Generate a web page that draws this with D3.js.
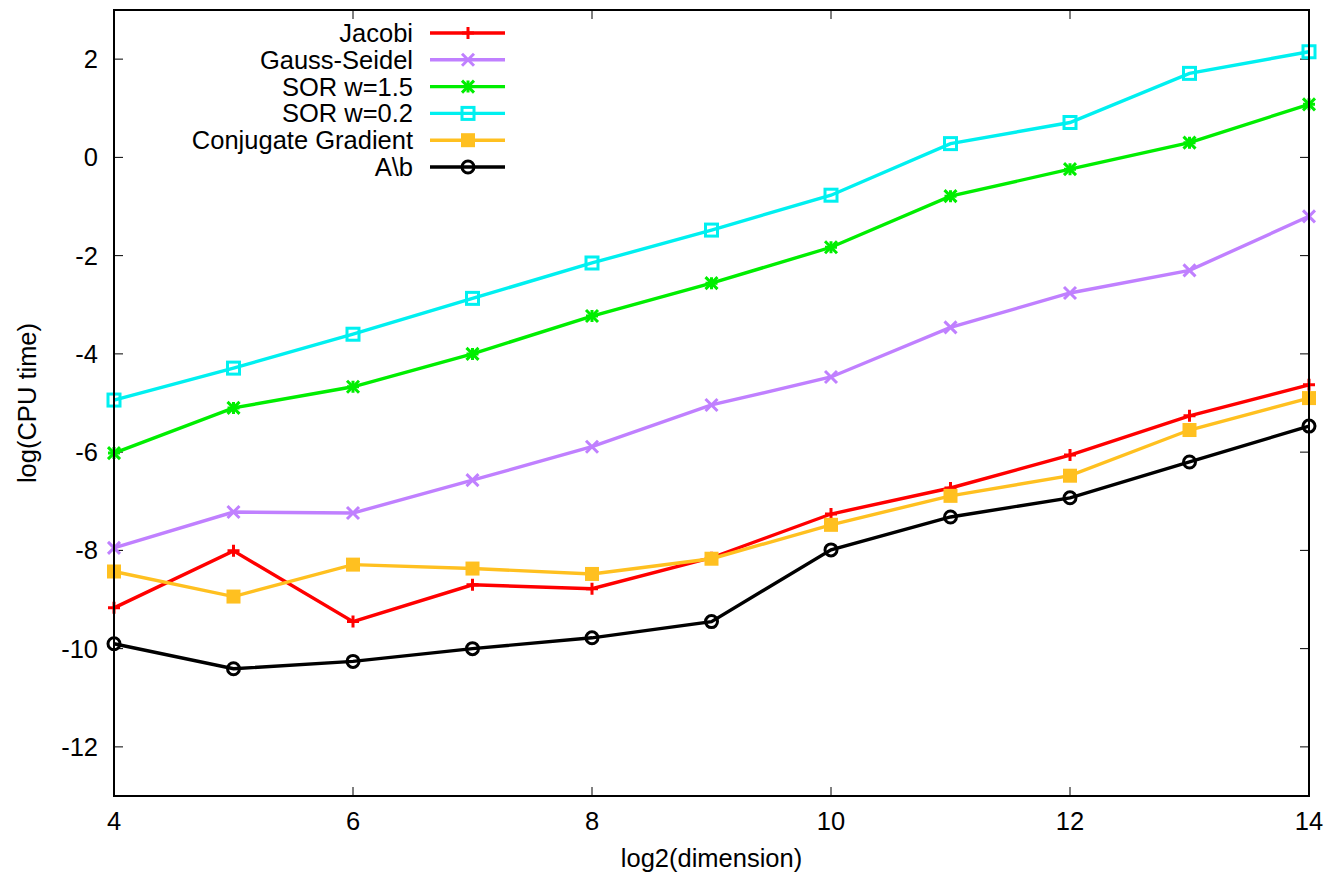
<!DOCTYPE html>
<html>
<head>
<meta charset="utf-8">
<script src="https://cdn.jsdelivr.net/npm/d3@7"></script>
<style>
  body { margin: 0; background: #fff; }
  text { font-family: "Liberation Sans", Arial, sans-serif; fill: #000; }
</style>
</head>
<body>
<svg id="chart" width="1332" height="883"></svg>
<script>
// log2(dimension)
const dims = [4, 5, 6, 7, 8, 9, 10, 11, 12, 13, 14]

const jacobi = [-9.17, -8.01, -9.45, -8.70, -8.78, -8.15, -7.26, -6.73, -6.06, -5.26, -4.63]
const gaussSeidel = [-7.95, -7.22, -7.24, -6.57, -5.89, -5.04, -4.47, -3.46, -2.76, -2.30, -1.20]
const sor15 = [-6.02, -5.10, -4.67, -4.00, -3.23, -2.56, -1.83, -0.79, -0.24, 0.30, 1.08]
const sor02 = [-4.94, -4.29, -3.60, -2.87, -2.15, -1.48, -0.77, 0.28, 0.71, 1.71, 2.15]
const conjGrad = [-8.43, -8.94, -8.29, -8.37, -8.48, -8.17, -7.48, -6.89, -6.48, -5.55, -4.90]
const backslash = [-9.90, -10.41, -10.26, -10.00, -9.78, -9.45, -7.99, -7.32, -6.93, -6.20, -5.47]

const seriesNames = ['Jacobi', 'Gauss-Seidel', 'SOR w=1.5', 'SOR w=0.2', 'Conjugate Gradient', 'A\\b']
const seriesValues = [jacobi, gaussSeidel, sor15, sor02, conjGrad, backslash]

const xTicks = [4, 6, 8, 10, 12, 14]
const yTicks = [2, 0, -2, -4, -6, -8, -10, -12]

const colors = ['#ff0000', '#c080ff', '#00ee00', '#00f0f0', '#ffc020', '#000000']
const markers = ['plus', 'cross', 'star', 'openSquare', 'square', 'circle']

const svg = d3.select('#chart')
const plotLeft = 114, plotRight = 1309, plotTop = 10, plotBottom = 796
const fontSize = '25.5px'

const x = d3.scaleLinear().domain([4, 14]).range([plotLeft, plotRight])
const y = d3.scaleLinear().domain([-13, 3]).range([plotBottom, plotTop])

// ticks, mirrored on both sides like gnuplot
const tickLen = 9
const g = svg.append('g')
for (let t of xTicks) {
    g.append('line')
        .attr('x1', x(t)).attr('x2', x(t))
        .attr('y1', plotBottom).attr('y2', plotBottom - tickLen)
        .attr('stroke', '#000').attr('stroke-width', 1)
    g.append('line')
        .attr('x1', x(t)).attr('x2', x(t))
        .attr('y1', plotTop).attr('y2', plotTop + tickLen)
        .attr('stroke', '#000').attr('stroke-width', 1)
    g.append('text')
        .attr('x', x(t)).attr('y', plotBottom + 34)
        .attr('text-anchor', 'middle')
        .style('font-size', fontSize)
        .text(t)
}
for (let t of yTicks) {
    g.append('line')
        .attr('x1', plotLeft).attr('x2', plotLeft + tickLen)
        .attr('y1', y(t)).attr('y2', y(t))
        .attr('stroke', '#000').attr('stroke-width', 1)
    g.append('line')
        .attr('x1', plotRight).attr('x2', plotRight - tickLen)
        .attr('y1', y(t)).attr('y2', y(t))
        .attr('stroke', '#000').attr('stroke-width', 1)
    g.append('text')
        .attr('x', plotLeft - 16).attr('y', y(t) + 9)
        .attr('text-anchor', 'end')
        .style('font-size', fontSize)
        .text(t)
}

// axis titles
svg.append('text')
    .attr('x', (plotLeft + plotRight) / 2).attr('y', 867)
    .attr('text-anchor', 'middle')
    .style('font-size', fontSize)
    .text('log2(dimension)')
svg.append('text')
    .attr('transform', `translate(36, ${(plotTop + plotBottom) / 2}) rotate(-90)`)
    .attr('text-anchor', 'middle')
    .style('font-size', fontSize)
    .text('log(CPU time)')

function drawMarker(sel, type, color) {
    const s = 6
    if (type == 'plus' || type == 'star') {
        sel.append('path').attr('d', `M${-s},0H${s}M0,${-s}V${s}`)
            .attr('stroke', color).attr('stroke-width', 3).attr('fill', 'none')
    }
    if (type == 'cross' || type == 'star') {
        sel.append('path').attr('d', `M${-s},${-s}L${s},${s}M${-s},${s}L${s},${-s}`)
            .attr('stroke', color).attr('stroke-width', 3).attr('fill', 'none')
    }
    if (type == 'openSquare') {
        sel.append('rect').attr('x', -6).attr('y', -6).attr('width', 12).attr('height', 12)
            .attr('stroke', color).attr('stroke-width', 3).attr('fill', 'none')
    }
    if (type == 'square') {
        sel.append('rect').attr('x', -7).attr('y', -7).attr('width', 14).attr('height', 14)
            .attr('fill', color)
    }
    if (type == 'circle') {
        sel.append('circle').attr('r', 6)
            .attr('stroke', color).attr('stroke-width', 3).attr('fill', 'none')
    }
}

const line = d3.line().x((d, i) => x(dims[i])).y(d => y(d))

seriesValues.forEach((vals, k) => {
    svg.append('path')
        .datum(vals)
        .attr('d', line)
        .attr('fill', 'none')
        .attr('stroke', colors[k])
        .attr('stroke-width', 3.4)
        .attr('stroke-linejoin', 'miter')
    vals.forEach((v, i) => {
        const m = svg.append('g').attr('transform', `translate(${x(dims[i])},${y(v)})`)
        drawMarker(m, markers[k], colors[k])
    })
})

// legend
const legendTop = 33, legendStep = 26.8
seriesNames.forEach((name, k) => {
    const ly = legendTop + k * legendStep
    svg.append('text')
        .attr('x', 413).attr('y', ly + 9)
        .attr('text-anchor', 'end')
        .style('font-size', fontSize)
        .text(name)
    svg.append('line')
        .attr('x1', 430).attr('x2', 505)
        .attr('y1', ly).attr('y2', ly)
        .attr('stroke', colors[k]).attr('stroke-width', 3.4)
    const m = svg.append('g').attr('transform', `translate(468,${ly})`)
    drawMarker(m, markers[k], colors[k])
})

// border drawn last
svg.append('rect')
    .attr('x', plotLeft).attr('y', plotTop)
    .attr('width', plotRight - plotLeft).attr('height', plotBottom - plotTop)
    .attr('fill', 'none').attr('stroke', '#000').attr('stroke-width', 2)
</script>
</body>
</html>
